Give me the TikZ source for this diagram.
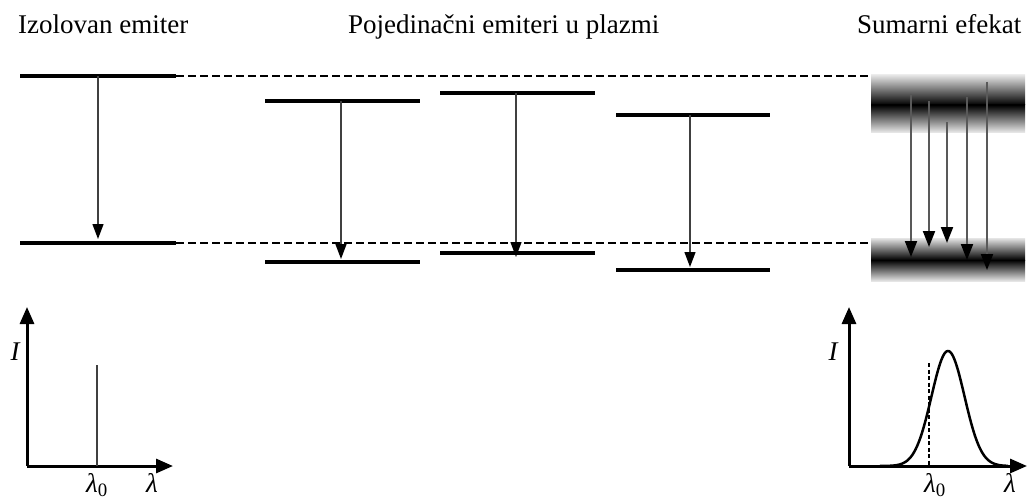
\documentclass[tikz,border=0pt]{standalone}
\usepackage{fontspec}
\setmainfont{Liberation Serif}
\usetikzlibrary{arrows.meta}
\begin{document}
\begin{tikzpicture}[x=1pt,y=-1pt,
  title/.style={font=\fontsize{27}{32}\selectfont, anchor=base west, inner sep=0pt},
  lbl/.style={font=\fontsize{27}{32}\selectfont\itshape, inner sep=0pt},
  level/.style={line width=4pt, black},
  guide/.style={line width=1.5pt, dash pattern=on 8pt off 4pt},
  trans/.style={line width=1.3pt, draw=black!75, -{Triangle[width=11pt,length=15pt,color=black]}},
  btrans/.style={line width=2pt, draw=black!65, -{Triangle[width=12pt,length=16pt,color=black]}},
  axis/.style={line width=3pt, -{Triangle[width=14pt,length=17pt]}}
]
\useasboundingbox (0,0) rectangle (1029,503);

% titles
\node[title] (t1) at (18,34) {Izolovan emiter};
\node[title] (t2) at (348,34) {Pojedinačni emiteri u plazmi};
\node[title] (t3) at (857,34) {Sumarni efekat};

% guide dashed lines
\coordinate (gu1) at (176,76); \coordinate (gu2) at (871,76);
\coordinate (gl1) at (176,243); \coordinate (gl2) at (871,243);
\draw[guide] (gu1) -- (gu2);
\draw[guide] (gl1) -- (gl2);

% isolated emitter
\coordinate (iu1) at (20,76); \coordinate (iu2) at (176,76);
\coordinate (il1) at (20,243); \coordinate (il2) at (176,243);
\draw[level] (iu1) -- (iu2);
\draw[level] (il1) -- (il2);
\coordinate (ia) at (98,76); \coordinate (ib) at (98,239);
\draw[trans] (ia) -- (ib);

% individual emitters
\foreach \n/\xa/\xb/\yu/\yl/\xm in {1/265/420/101/262/341, 2/440/595/93/253/516, 3/616/770/115/270/690}{
  \coordinate (u\n a) at (\xa,\yu); \coordinate (u\n b) at (\xb,\yu);
  \coordinate (l\n a) at (\xa,\yl); \coordinate (l\n b) at (\xb,\yl);
  \draw[level] (u\n a) -- (u\n b);
  \draw[level] (l\n a) -- (l\n b);
  \coordinate (s\n) at (\xm,\yu); \coordinate (e\n) at (\xm,\yl-3);
}
\draw[trans] (s1) -- (e1);
\draw[trans] (s2) -- ([yshift=-7pt]e2);
\draw[trans] (s3) -- (e3);

% bands
\shade[top color=black!10, bottom color=black] (871,75) rectangle (1025,105);
\shade[top color=black, bottom color=black!10] (871,105) rectangle (1025,132);
\shade[top color=black!10, bottom color=black] (871,238) rectangle (1025,260);
\shade[top color=black, bottom color=black!10] (871,260) rectangle (1025,281);
\foreach \n/\x/\ya/\yb in {1/911/95/257, 2/929/101/247, 3/947/122/243, 4/967/97/260, 5/987/82/270}{
  \coordinate (ba\n) at (\x,\ya); \coordinate (bb\n) at (\x,\yb);
  \draw[btrans] (ba\n) -- (bb\n);
}

% left spectrum
\coordinate (o1) at (27,466);
\coordinate (y1) at (27,307);
\coordinate (x1) at (173,466);
\draw[axis] (o1) -- (y1);
\draw[axis] (o1) -- (x1);
\coordinate (p1) at (97,365); \coordinate (q1) at (97,466);
\draw[line width=1.3pt, black!75] (p1) -- (q1);
\node[lbl] (I1) at (15,352) {I};
\node[lbl, anchor=base] (L01) at (97,492) {λ\textsubscript{\upshape 0}};
\node[lbl, anchor=base] (L1) at (152,492) {λ};

% right spectrum
\coordinate (o2) at (849,466);
\coordinate (y2) at (849,307);
\coordinate (x2) at (1027,466);
\draw[axis] (o2) -- (y2);
\draw[axis] (o2) -- (x2);
\coordinate (p2) at (929,363); \coordinate (q2) at (929,466);
\draw[line width=2pt, dash pattern=on 4pt off 2.5pt] (p2) -- (q2);
\draw[line width=2.5pt, line join=round] plot[domain=880:1008, samples=120, smooth] (\x,{466-115*exp(-0.5*((\x-948)/16.5)^2)});
\node[lbl] (I2) at (833,352) {I};
\node[lbl, anchor=base] (L02) at (935,492) {λ\textsubscript{\upshape 0}};
\node[lbl, anchor=base] (L2) at (1010,492) {λ};
\end{tikzpicture}
\end{document}
